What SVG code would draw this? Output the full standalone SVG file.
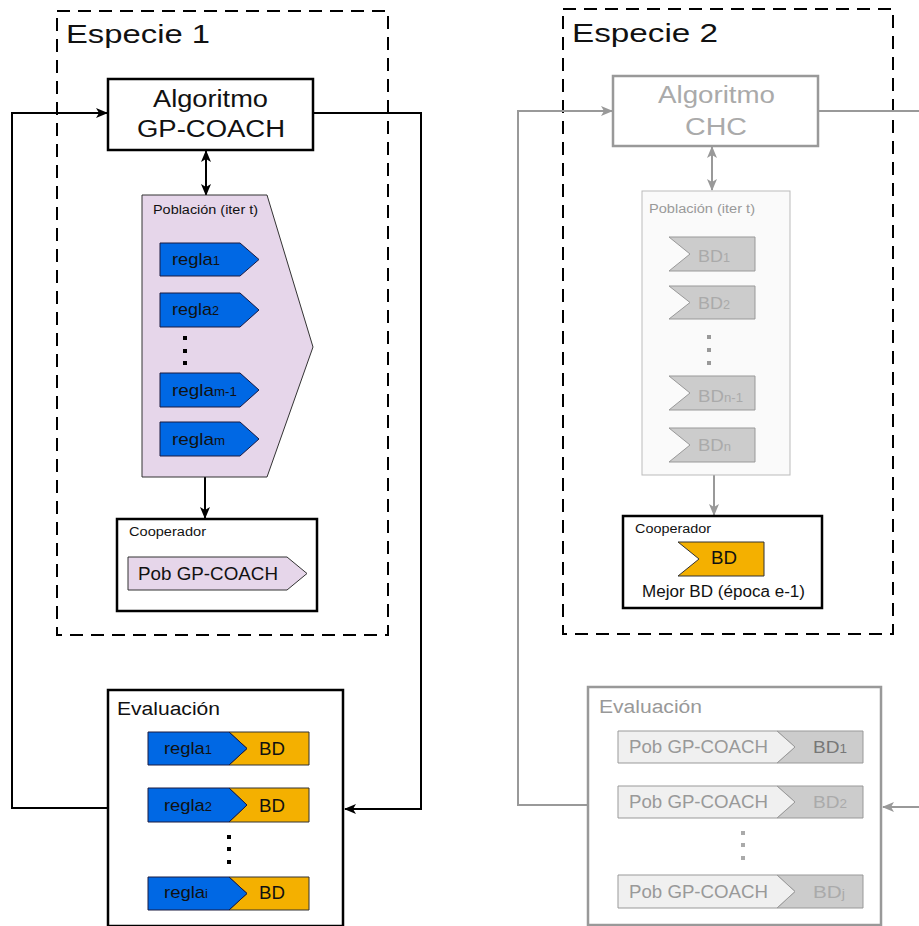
<svg xmlns="http://www.w3.org/2000/svg" width="919" height="926" viewBox="0 0 919 926">
<defs>
<style>
text{font-family:"Liberation Sans",Arial,sans-serif;fill:#111}
.dash{fill:none;stroke:#000;stroke-width:2;stroke-dasharray:13,8}
.blk{fill:#fff;stroke:#000;stroke-width:2.5}
.gbox{fill:#fff;stroke:#999;stroke-width:2.5}
.con{fill:none;stroke:#000;stroke-width:2}
.gcon{fill:none;stroke:#999;stroke-width:2}
.blue{fill:#0068e4;stroke:#1a1a40;stroke-width:1}
.orange{fill:#f4b000;stroke:#333;stroke-width:1}
.lav{fill:#e6d6ea;stroke:#333;stroke-width:1}
.lgray{fill:#f0f0f0;stroke:#999;stroke-width:1}
.dgray{fill:#cccccc;stroke:#999;stroke-width:1}
</style>
<marker id="ah" viewBox="0 0 12 10" refX="11" refY="5" markerWidth="12" markerHeight="10" markerUnits="userSpaceOnUse" orient="auto-start-reverse">
<path d="M0,0 L12,5 L0,10 L3,5 z" fill="#000"/>
</marker>
<marker id="gah" viewBox="0 0 12 10" refX="11" refY="5" markerWidth="12" markerHeight="10" markerUnits="userSpaceOnUse" orient="auto-start-reverse">
<path d="M0,0 L12,5 L0,10 L3,5 z" fill="#999"/>
</marker>
</defs>
<rect width="919" height="926" fill="#fff"/>

<g id="especie1">
<rect class="dash" x="57" y="11" width="331" height="624"/>
<text x="66" y="43" font-size="26" textLength="144" lengthAdjust="spacingAndGlyphs">Especie 1</text>
</g>
<g id="especie2">
<rect class="dash" x="563" y="9" width="330" height="625"/>
<text x="572" y="42" font-size="26" textLength="146" lengthAdjust="spacingAndGlyphs">Especie 2</text>
</g>

<g id="connectors">
<path class="con" d="M108,808 H12 V113 H107" marker-end="url(#ah)"/>
<path class="con" d="M313,113 H421 V809 H345" marker-end="url(#ah)"/>
<line class="con" x1="206" y1="151" x2="206" y2="195" marker-start="url(#ah)" marker-end="url(#ah)"/>
<line class="con" x1="205" y1="477" x2="205" y2="518" marker-end="url(#ah)"/>
<path class="gcon" d="M588,805 H518 V111 H612" marker-end="url(#gah)"/>
<path class="gcon" d="M818,111 H919"/>
<path class="gcon" d="M919,807 H883" marker-end="url(#gah)"/>
<line class="gcon" x1="712" y1="147" x2="712" y2="190" marker-start="url(#gah)" marker-end="url(#gah)"/>
<line class="gcon" x1="714" y1="475" x2="714" y2="515" marker-end="url(#gah)"/>
</g>

<g id="algoritmo-gpcoach">
<rect class="blk" x="108" y="79" width="205" height="71"/>
<text x="210.5" y="107" font-size="23" text-anchor="middle" textLength="115" lengthAdjust="spacingAndGlyphs">Algoritmo</text>
<text x="211" y="137" font-size="23" text-anchor="middle" textLength="148" lengthAdjust="spacingAndGlyphs">GP-COACH</text>
</g>

<g id="poblacion1">
<polygon class="lav" points="142,195 267,195 313,347 267,477 142,477"/>
<text x="153" y="214" font-size="12.5" textLength="105" lengthAdjust="spacingAndGlyphs">Población (iter t)</text>
<polygon class="blue" points="160,243 240,243 259,259.5 240,276 160,276"/>
<text x="172" y="265" font-size="17" textLength="48" lengthAdjust="spacingAndGlyphs">regla<tspan font-size="12">1</tspan></text>
<polygon class="blue" points="160,293 240,293 259,310 240,327 160,327"/>
<text x="172" y="315" font-size="17" textLength="47" lengthAdjust="spacingAndGlyphs">regla<tspan font-size="12">2</tspan></text>
<rect x="183" y="336" width="4" height="4"/>
<rect x="183" y="349" width="4" height="4"/>
<rect x="183" y="361" width="4" height="4"/>
<polygon class="blue" points="160,373 240,373 259,390 240,407 160,407"/>
<text x="172" y="396" font-size="17" textLength="65" lengthAdjust="spacingAndGlyphs">regla<tspan font-size="12">m-1</tspan></text>
<polygon class="blue" points="160,422 240,422 259,439 240,456 160,456"/>
<text x="172" y="445" font-size="17" textLength="53" lengthAdjust="spacingAndGlyphs">regla<tspan font-size="12">m</tspan></text>
</g>

<g id="cooperador1">
<rect class="blk" x="117" y="519" width="200" height="92" stroke-width="3"/>
<text x="129" y="536" font-size="12.5" textLength="77" lengthAdjust="spacingAndGlyphs">Cooperador</text>
<polygon class="lav" points="128,557 287,557 307,573.5 287,590 128,590"/>
<text x="138" y="580" font-size="18" textLength="140" lengthAdjust="spacingAndGlyphs">Pob GP-COACH</text>
</g>

<g id="evaluacion1">
<rect class="blk" x="108" y="690" width="235" height="236"/>
<text x="117" y="715" font-size="18" textLength="103" lengthAdjust="spacingAndGlyphs">Evaluación</text>
<polygon class="orange" points="229,732 309,732 309,765 229,765 247,748.5"/>
<polygon class="blue" points="148,732 229,732 247,748.5 229,765 148,765"/>
<text x="164" y="754" font-size="17" textLength="48" lengthAdjust="spacingAndGlyphs">regla<tspan font-size="12">1</tspan></text>
<text x="272" y="755" font-size="18" text-anchor="middle" textLength="26" lengthAdjust="spacingAndGlyphs">BD</text>
<polygon class="orange" points="229,788 309,788 309,822 229,822 247,805"/>
<polygon class="blue" points="148,788 229,788 247,805 229,822 148,822"/>
<text x="164" y="811" font-size="17" textLength="48" lengthAdjust="spacingAndGlyphs">regla<tspan font-size="12">2</tspan></text>
<text x="272" y="812" font-size="18" text-anchor="middle" textLength="26" lengthAdjust="spacingAndGlyphs">BD</text>
<rect x="227" y="835" width="4" height="4"/>
<rect x="227" y="847" width="4" height="4"/>
<rect x="227" y="860" width="4" height="4"/>
<polygon class="orange" points="229,877 309,877 309,910 229,910 247,893.5"/>
<polygon class="blue" points="148,877 229,877 247,893.5 229,910 148,910"/>
<text x="164" y="898" font-size="17" textLength="44" lengthAdjust="spacingAndGlyphs">regla<tspan font-size="12">i</tspan></text>
<text x="272" y="899" font-size="18" text-anchor="middle" textLength="26" lengthAdjust="spacingAndGlyphs">BD</text>
</g>

<g id="algoritmo-chc">
<rect class="gbox" x="613" y="76" width="205" height="70"/>
<text x="716.5" y="103" font-size="23" style="fill:#aaa" text-anchor="middle" textLength="117" lengthAdjust="spacingAndGlyphs">Algoritmo</text>
<text x="716" y="135" font-size="23" style="fill:#aaa" text-anchor="middle" textLength="62" lengthAdjust="spacingAndGlyphs">CHC</text>
</g>

<g id="poblacion2">
<rect x="642" y="191" width="148" height="284" fill="#fafafa" stroke="#bbb" stroke-width="1"/>
<text x="649" y="213" font-size="12.5" style="fill:#999" textLength="106" lengthAdjust="spacingAndGlyphs">Población (iter t)</text>
<polygon class="dgray" points="669,237 755,237 755,271 669,271 690,254"/>
<text x="698" y="262" font-size="17" style="fill:#aaa" textLength="32" lengthAdjust="spacingAndGlyphs">BD<tspan font-size="12">1</tspan></text>
<polygon class="dgray" points="669,286 755,286 755,319 669,319 690,302.5"/>
<text x="698" y="309" font-size="17" style="fill:#aaa" textLength="32" lengthAdjust="spacingAndGlyphs">BD<tspan font-size="12">2</tspan></text>
<rect x="707" y="335" width="4" height="4" fill="#999"/>
<rect x="707" y="348" width="4" height="4" fill="#999"/>
<rect x="707" y="361" width="4" height="4" fill="#999"/>
<polygon class="dgray" points="669,376 755,376 755,410 669,410 690,393"/>
<text x="698" y="402" font-size="17" style="fill:#aaa" textLength="45" lengthAdjust="spacingAndGlyphs">BD<tspan font-size="12">n-1</tspan></text>
<polygon class="dgray" points="669,428 755,428 755,462 669,462 690,445"/>
<text x="698" y="451" font-size="17" style="fill:#aaa" textLength="33" lengthAdjust="spacingAndGlyphs">BD<tspan font-size="12">n</tspan></text>
</g>

<g id="cooperador2">
<rect class="blk" x="623" y="516" width="199" height="92" stroke-width="3"/>
<text x="635" y="533" font-size="12.5" textLength="76" lengthAdjust="spacingAndGlyphs">Cooperador</text>
<polygon class="orange" points="678,542 764,542 764,576 678,576 699,559"/>
<text x="724" y="564" font-size="18" text-anchor="middle" textLength="26" lengthAdjust="spacingAndGlyphs">BD</text>
<text x="723.5" y="597" font-size="16" text-anchor="middle" textLength="163" lengthAdjust="spacingAndGlyphs">Mejor BD (época e-1)</text>
</g>

<g id="evaluacion2">
<rect class="gbox" x="588" y="687" width="293" height="238"/>
<text x="599" y="713" font-size="18" style="fill:#999" textLength="103" lengthAdjust="spacingAndGlyphs">Evaluación</text>
<polygon class="dgray" points="777,731 863,731 863,763 777,763 795,747"/>
<polygon class="lgray" points="618,731 777,731 795,747 777,763 618,763" stroke="#777"/>
<text x="629" y="753" font-size="18" style="fill:#999" textLength="139" lengthAdjust="spacingAndGlyphs">Pob GP-COACH</text>
<text x="813" y="753" font-size="17" style="fill:#777" textLength="34" lengthAdjust="spacingAndGlyphs">BD<tspan font-size="12">1</tspan></text>
<polygon class="dgray" points="777,786 863,786 863,818 777,818 795,802"/>
<polygon class="lgray" points="618,786 777,786 795,802 777,818 618,818"/>
<text x="629" y="808" font-size="18" style="fill:#999" textLength="139" lengthAdjust="spacingAndGlyphs">Pob GP-COACH</text>
<text x="813" y="808" font-size="17" style="fill:#aaa" textLength="34" lengthAdjust="spacingAndGlyphs">BD<tspan font-size="12">2</tspan></text>
<rect x="741" y="831" width="4" height="4" fill="#aaa"/>
<rect x="741" y="843" width="4" height="4" fill="#aaa"/>
<rect x="741" y="856" width="4" height="4" fill="#aaa"/>
<polygon class="dgray" points="777,875 863,875 863,908 777,908 795,891.5"/>
<polygon class="lgray" points="618,875 777,875 795,891.5 777,908 618,908"/>
<text x="629" y="898" font-size="18" style="fill:#999" textLength="139" lengthAdjust="spacingAndGlyphs">Pob GP-COACH</text>
<text x="813" y="898" font-size="17" style="fill:#aaa" textLength="32" lengthAdjust="spacingAndGlyphs">BD<tspan font-size="12">j</tspan></text>
</g>
</svg>
